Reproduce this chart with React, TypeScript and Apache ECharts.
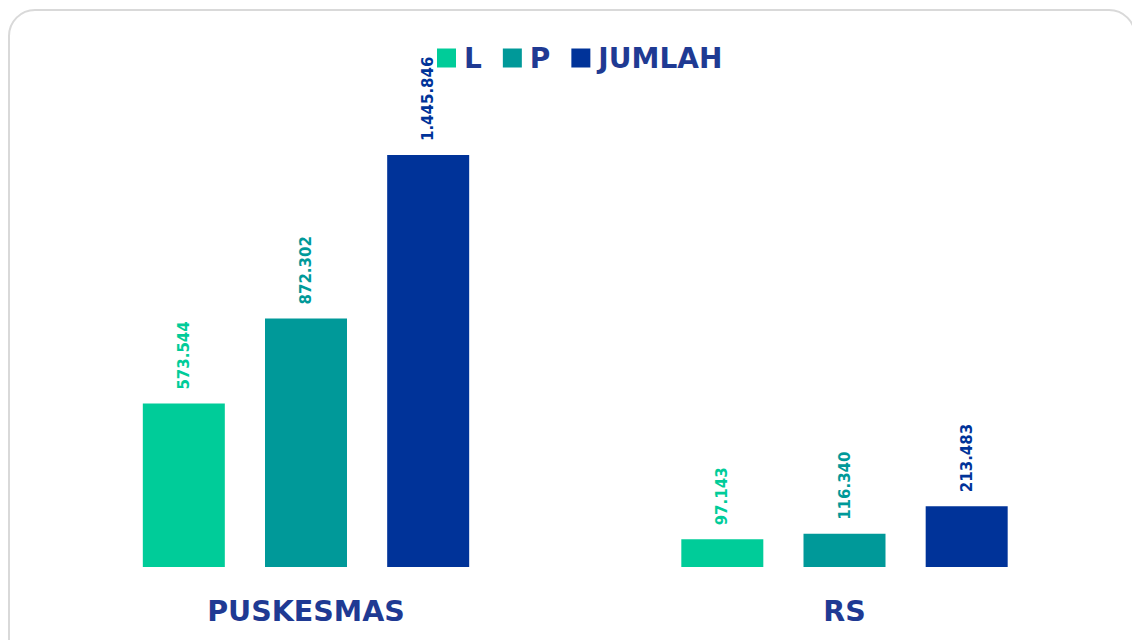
import React, { useEffect, useRef } from "react";
import * as echarts from "echarts";

const categories = ["PUSKESMAS", "RS"];
const seriesNames = ["L", "P", "JUMLAH"];
const valuesL = [573544, 97143];
const valuesP = [872302, 116340];
const valuesJumlah = [1445846, 213483];
const colors = ["#00CC99", "#009999", "#003399"];
const textBlue = "#1F3A93";

const fmt = (v: number) => v.toLocaleString("de-DE");

export default function App() {
  const ref = useRef<HTMLDivElement>(null);
  useEffect(() => {
    if (!ref.current) return;
    const chart = echarts.init(ref.current, undefined, { renderer: "svg" });
    const data = [valuesL, valuesP, valuesJumlah];
    chart.setOption({
      animation: false,
      backgroundColor: "#ffffff",
      graphic: [
        {
          type: "rect",
          shape: { x: 9, y: 10, width: 1126, height: 700, r: 26 },
          style: { fill: "none", stroke: "#d9d9d9", lineWidth: 2 },
          silent: true,
          z: -10,
        },
      ],
      legend: {
        left: 432,
        top: 39,
        itemWidth: 19,
        itemHeight: 19,
        itemGap: 21,
        icon: "rect",
        data: seriesNames,
        textStyle: {
          fontFamily: "DejaVu Sans",
          fontWeight: "bold",
          fontSize: 28,
          color: textBlue,
          padding: [0, 0, 0, 3],
        },
      },
      grid: { left: 36.75, right: 18.25, top: 111.1, bottom: 73 },
      xAxis: {
        type: "category",
        data: categories,
        axisLine: { show: false },
        axisTick: { show: false },
        axisLabel: {
          margin: 30,
          fontFamily: "DejaVu Sans",
          fontWeight: "bold",
          fontSize: 28.5,
          color: textBlue,
        },
      },
      yAxis: {
        type: "value",
        min: 0,
        max: 1600000,
        show: false,
        splitLine: { show: false },
      },
      series: seriesNames.map((name, i) => ({
        name,
        type: "bar",
        data: data[i],
        barWidth: 82,
        barGap: "49%",
        itemStyle: { color: colors[i] },
        label: {
          show: true,
          position: "top",
          rotate: 90,
          align: "left",
          verticalAlign: "middle",
          distance: 14,
          fontFamily: "DejaVu Sans",
          fontWeight: "bold",
          fontSize: 15,
          color: colors[i],
          formatter: (p: any) => fmt(p.value),
        },
      })),
    });
    return () => chart.dispose();
  }, []);
  return (
    <div
      ref={ref}
      style={{ position: "absolute", left: 0, top: 0, width: 1132, height: 640 }}
    />
  );
}
